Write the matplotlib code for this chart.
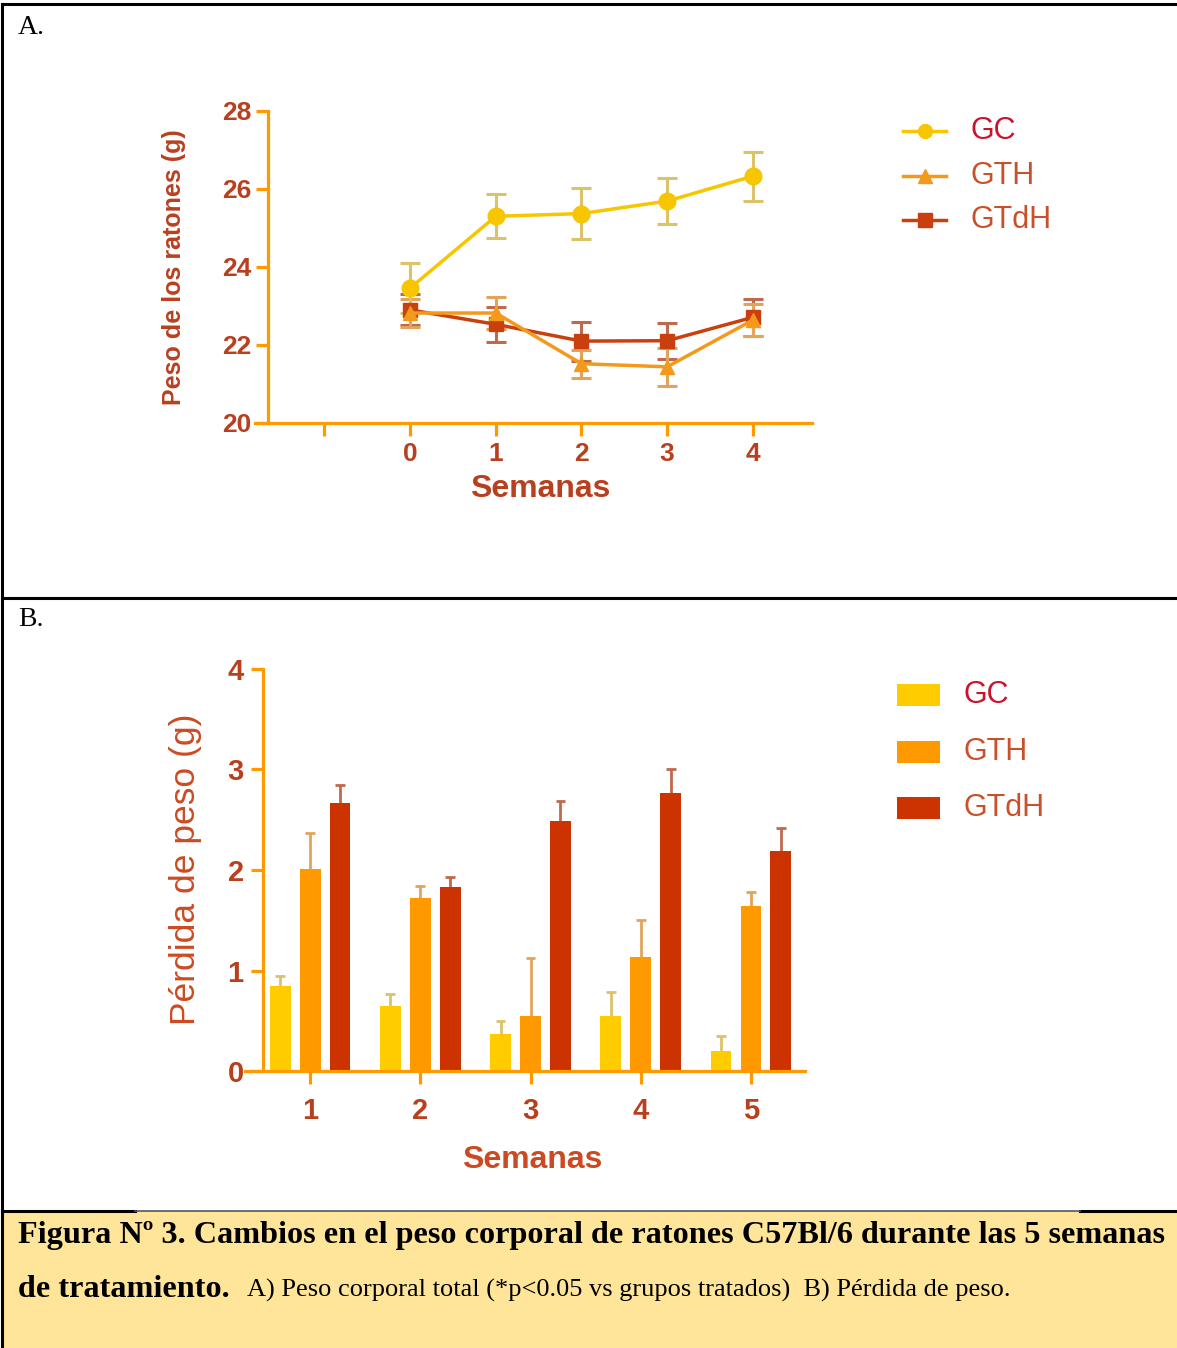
import numpy as np
import matplotlib
matplotlib.use("Agg")
import matplotlib.pyplot as plt
from matplotlib.lines import Line2D
from matplotlib.patches import Rectangle

# --- datos ---
grupos = ["GC", "GTH", "GTdH"]

semanas_a = [0, 1, 2, 3, 4]
peso_gc = [23.46, 25.30, 25.37, 25.69, 26.33]
peso_gc_err = [0.65, 0.56, 0.65, 0.60, 0.63]
peso_gth = [22.82, 22.82, 21.52, 21.44, 22.64]
peso_gth_err = [0.37, 0.41, 0.36, 0.48, 0.41]
peso_gtdh = [22.90, 22.53, 22.10, 22.11, 22.71]
peso_gtdh_err = [0.40, 0.45, 0.50, 0.46, 0.47]

semanas_b = [1, 2, 3, 4, 5]
perdida_gc = [0.85, 0.65, 0.37, 0.55, 0.195]
perdida_gc_err = [0.10, 0.12, 0.13, 0.24, 0.15]
perdida_gth = [2.01, 1.72, 0.55, 1.13, 1.64]
perdida_gth_err = [0.36, 0.12, 0.57, 0.37, 0.14]
perdida_gtdh = [2.67, 1.83, 2.49, 2.77, 2.19]
perdida_gtdh_err = [0.18, 0.10, 0.20, 0.23, 0.23]

# --- colores ---
eje = "#FF9900"
txt = "#B8401F"
c_gc, c_gth, c_gtdh = "#F7C600", "#F39A1C", "#C9400E"
e_gc, e_gth, e_gtdh = "#DCC26A", "#E2A45A", "#BE6A4C"
b_gc, b_gth, b_gtdh = "#FFCC00", "#FF9900", "#CC3300"

W, H = 1177, 1348
fig = plt.figure(figsize=(W / 100, H / 100), dpi=100)
fig.patch.set_facecolor("white")


def fx(x):
    return x / W


def fy(y):
    return 1 - y / H


def px_axes(x0, y0, x1, y1):
    return fig.add_axes([fx(x0), fy(y1), fx(x1) - fx(x0), fy(y0) - fy(y1)])


def estilo(ax):
    for s in ["top", "right"]:
        ax.spines[s].set_visible(False)
    for s in ["left", "bottom"]:
        ax.spines[s].set_color(eje)
        ax.spines[s].set_linewidth(2.3)
    ax.tick_params(colors=eje, width=2.3, length=9, labelcolor=txt)
    ax.set_facecolor("none")
    for lab in ax.get_xticklabels() + ax.get_yticklabels():
        lab.set_fontweight("bold")
        lab.set_family("Liberation Sans")


# ---------- A: peso corporal ----------
axA = px_axes(255, 111, 812, 423)
axA.set_xlim(-1.81, 4.69)
axA.set_ylim(20, 28)
axA.spines["left"].set_position(("data", -1.66))
axA.set_xticks([-1, 0, 1, 2, 3, 4])
axA.set_xticklabels(["", "0", "1", "2", "3", "4"], fontsize=19)
axA.set_yticks([20, 22, 24, 26, 28])
axA.set_yticklabels(["20", "22", "24", "26", "28"], fontsize=19)
axA.tick_params(axis="x", pad=5)
axA.tick_params(axis="y", pad=3)
estilo(axA)

series_a = [
    (peso_gtdh, peso_gtdh_err, c_gtdh, e_gtdh, "s", 10),
    (peso_gth, peso_gth_err, c_gth, e_gth, "^", 10),
    (peso_gc, peso_gc_err, c_gc, e_gc, "o", 12),
]
for vals, err, col, ecol, mk, ms in series_a:
    axA.errorbar(semanas_a, vals, yerr=err, fmt="none", ecolor=ecol,
                 elinewidth=2.2, capsize=7.5, capthick=2.2, zorder=2)
    axA.plot(semanas_a, vals, color=col, lw=2.5, marker=mk, ms=ms,
             mec=col, mfc=col, zorder=3, clip_on=False)

fig.text(fx(174), fy(267), "Peso de los ratones (g)", rotation=90,
         ha="center", va="center", fontsize=18, fontweight="bold",
         color=txt, family="Liberation Sans")
fig.text(fx(540), fy(489), "Semanas", ha="center", va="center",
         fontsize=23, fontweight="bold", color=txt, family="Liberation Sans")

# leyenda A
leg_y = [131, 176, 220]
leg_col = [c_gc, c_gth, c_gtdh]
leg_mk = ["o", "^", "s"]
leg_txt_col = ["#C8142C", "#C8502A", "#C8502A"]
for y, col, mk, g, tc in zip(leg_y, leg_col, leg_mk, grupos, leg_txt_col):
    fig.add_artist(Line2D([fx(903), fx(946)], [fy(y), fy(y)], color=col, lw=2.5))
    fig.add_artist(Line2D([fx(924.5)], [fy(y)], marker=mk, ms=10, color=col))
    fig.text(fx(970), fy(y), g, ha="left", va="center", fontsize=22,
             color=tc, family="Liberation Sans")

# ---------- B: pérdida de peso ----------
axB = px_axes(245, 669, 805, 1071)
axB.set_xlim(0.41, 5.49)
axB.set_ylim(0, 4)
axB.spines["left"].set_position(("data", 0.574))
axB.set_xticks(semanas_b)
axB.set_xticklabels([str(s) for s in semanas_b], fontsize=21)
axB.set_yticks([0, 1, 2, 3, 4])
axB.set_yticklabels(["0", "1", "2", "3", "4"], fontsize=21)
axB.tick_params(axis="x", pad=10)
axB.tick_params(axis="y", pad=5)
estilo(axB)

xb = np.array(semanas_b, dtype=float)
ancho = 0.19
desp = 0.272
series_b = [
    (perdida_gc, perdida_gc_err, b_gc, e_gc, -desp),
    (perdida_gth, perdida_gth_err, b_gth, e_gth, 0.0),
    (perdida_gtdh, perdida_gtdh_err, b_gtdh, e_gtdh, desp),
]
for vals, err, col, ecol, d in series_b:
    pos = xb + d
    vals = np.array(vals)
    tops = vals + np.array(err)
    axB.bar(pos, vals, width=ancho, color=col, zorder=2)
    axB.vlines(pos, vals, tops, color=ecol, lw=2.0, zorder=1)
    axB.hlines(tops, pos - 0.045, pos + 0.045, color=ecol, lw=2.0, zorder=1)

fig.text(fx(186), fy(869), "Pérdida de peso (g)", rotation=90,
         ha="center", va="center", fontsize=25.5, color="#CC4A22",
         family="Liberation Sans")
fig.text(fx(532), fy(1160), "Semanas", ha="center", va="center",
         fontsize=23, fontweight="bold", color="#CC4A22", family="Liberation Sans")

leg_b_y = [695, 752, 808]
for y, col, g, tc in zip(leg_b_y, [b_gc, b_gth, b_gtdh], grupos, leg_txt_col):
    fig.add_artist(Rectangle((fx(897), fy(y + 11)), fx(43), 22 / H,
                             facecolor=col, edgecolor="none"))
    fig.text(fx(963), fy(y), g, ha="left", va="center", fontsize=22,
             color=tc, family="Liberation Sans")

# ---------- marco y leyenda de figura ----------
fig.add_artist(Rectangle((fx(2), 0), 1 - fx(2), fy(1211), facecolor="#FFE599",
                         edgecolor="none", zorder=0))
negro = dict(color="black", lw=2.2)
fig.add_artist(Line2D([fx(2), 1], [fy(4), fy(4)], **negro))
fig.add_artist(Line2D([fx(2), fx(2)], [fy(4), 0], **negro))
fig.add_artist(Line2D([fx(2), 1], [fy(598), fy(598)], **negro))
fig.add_artist(Line2D([fx(2), fx(135)], [fy(1211), fy(1211)], **negro))
fig.add_artist(Line2D([fx(1080), 1], [fy(1211), fy(1211)], **negro))
fig.add_artist(Line2D([fx(135), fx(1080)], [fy(1211), fy(1211)],
                      color="#555566", lw=1.2))

serif = "Liberation Serif"
fig.text(fx(18), fy(27), "A.", ha="left", va="center", fontsize=20,
         family=serif)
fig.text(fx(18), fy(620), "B.", ha="left", va="center", fontsize=20,
         family=serif)

fig.text(fx(18), fy(1243),
         "Figura Nº 3. Cambios en el peso corporal de ratones C57Bl/6 durante las 5 semanas",
         ha="left", va="baseline", fontsize=23.2, fontweight="bold", family=serif)
t1 = fig.text(fx(18), fy(1297), "de tratamiento.", ha="left", va="baseline",
              fontsize=23.2, fontweight="bold", family=serif)
fig.canvas.draw()
bb = t1.get_window_extent()
fig.text(bb.x1 / W + fx(17), fy(1297),
         "A) Peso corporal total (*p<0.05 vs grupos tratados)  B) Pérdida de peso.",
         ha="left", va="baseline", fontsize=19, family=serif)

fig.savefig("out.png", dpi=100)
